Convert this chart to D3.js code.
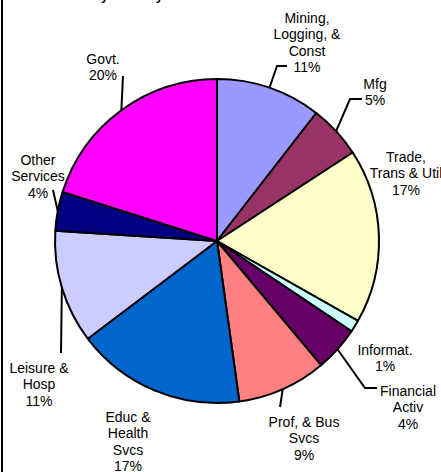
<!DOCTYPE html>
<html>
<head>
<meta charset="utf-8">
<script src="https://cdn.jsdelivr.net/npm/d3@7/dist/d3.min.js"></script>
<style>
  html, body { margin: 0; padding: 0; background: #fff; }
  svg { display: block; }
  text { font-family: "Liberation Sans", Arial, sans-serif; fill: #000; }
</style>
</head>
<body>
<div id="chart"></div>
<script>
// slice order: clockwise from 12 o'clock
const sectors = [
  "Mining, Logging, & Const", "Mfg", "Trade, Trans & Util", "Informat.",
  "Financial Activ", "Prof, & Bus Svcs", "Educ & Health Svcs",
  "Leisure & Hosp", "Other Services", "Govt."
];
const shares = [10.5, 5.3, 17.4, 1.2, 4.5, 8.9, 16.9, 11.3, 3.9, 20.1];
const pctLabels = ["11%", "5%", "17%", "1%", "4%", "9%", "17%", "11%", "4%", "20%"];
const nameLines = [
  ["Mining,", "Logging, &", "Const"],
  ["Mfg"],
  ["Trade,", "Trans & Util"],
  ["Informat."],
  ["Financial", "Activ"],
  ["Prof, & Bus", "Svcs"],
  ["Educ &", "Health", "Svcs"],
  ["Leisure &", "Hosp"],
  ["Other", "Services"],
  ["Govt."]
];
const colours = [
  "#9999ff", "#993366", "#ffffcc", "#ccffff", "#660066",
  "#ff8080", "#0066cc", "#ccccff", "#000080", "#ff00ff"
];

// label layout (centre x, first line y) and leader line points
const labelLayout = [
  { x: 307, y: 18, leader: [[277, 66], [287, 66]] },
  { x: 375, y: 84, leader: [[350, 99], [362, 99]] },
  { x: 406, y: 157, leader: null },
  { x: 385, y: 350, leader: null },
  { x: 408, y: 391, leader: [[365, 388], [377, 388]] },
  { x: 304, y: 422, leader: [[280, 407]] },
  { x: 128, y: 417, leader: null },
  { x: 39, y: 368, leader: [[61, 353]] },
  { x: 38, y: 160, leader: [[53, 190]] },
  { x: 103, y: 59, leader: [[123, 76]] }
];

const width = 441;
const height = 472;
const cx = 217;
const cy = 241;
const radius = 162;
const lineH = 16.3;

const svg = d3.select("#chart")
  .append("svg")
  .attr("width", width)
  .attr("height", height);

// title cut off by the top of the frame, only descenders show
svg.append("text")
  .attr("x", 93)
  .attr("y", -0.5)
  .style("font-size", "13px")
  .style("font-weight", "bold")
  .text("by Industry");

// left frame edge
svg.append("line")
  .attr("x1", 2).attr("x2", 2)
  .attr("y1", 0).attr("y2", height)
  .attr("stroke", "#000")
  .attr("stroke-width", 2);

const data = sectors.map((s, i) => ({
  name: s,
  value: shares[i],
  colour: colours[i],
  lines: nameLines[i].concat([pctLabels[i]]),
  layout: labelLayout[i]
}));

const pie = d3.pie().sort(null).value((d) => d.value);
const arc = d3.arc().innerRadius(0).outerRadius(radius);
const arcs = pie(data);

const g = svg.append("g").attr("transform", `translate(${cx},${cy})`);

g.selectAll("path.slice")
  .data(arcs)
  .join("path")
  .attr("class", "slice")
  .attr("d", arc)
  .attr("fill", (d) => d.data.colour)
  .attr("stroke", "#000")
  .attr("stroke-width", 2)
  .attr("stroke-linejoin", "round");

// leader lines start on the rim at each slice's mid angle
const line = d3.line();
svg.selectAll("path.leader")
  .data(arcs.filter((d) => d.data.layout.leader))
  .join("path")
  .attr("class", "leader")
  .attr("fill", "none")
  .attr("stroke", "#000")
  .attr("stroke-width", 2)
  .attr("d", (d) => {
    const mid = (d.startAngle + d.endAngle) / 2;
    const start = [cx + radius * Math.sin(mid), cy - radius * Math.cos(mid)];
    return line([start].concat(d.data.layout.leader));
  });

const labels = svg.selectAll("text.label")
  .data(arcs)
  .join("text")
  .attr("class", "label")
  .attr("text-anchor", "middle")
  .style("font-size", "14px")
  .attr("x", (d) => d.data.layout.x)
  .attr("y", (d) => d.data.layout.y);

labels.selectAll("tspan")
  .data((d) => d.data.lines.map((t) => ({ t, x: d.data.layout.x })))
  .join("tspan")
  .attr("x", (d) => d.x)
  .attr("dy", (d, i) => (i === 0 ? "0.35em" : lineH))
  .text((d) => d.t);
</script>
</body>
</html>
